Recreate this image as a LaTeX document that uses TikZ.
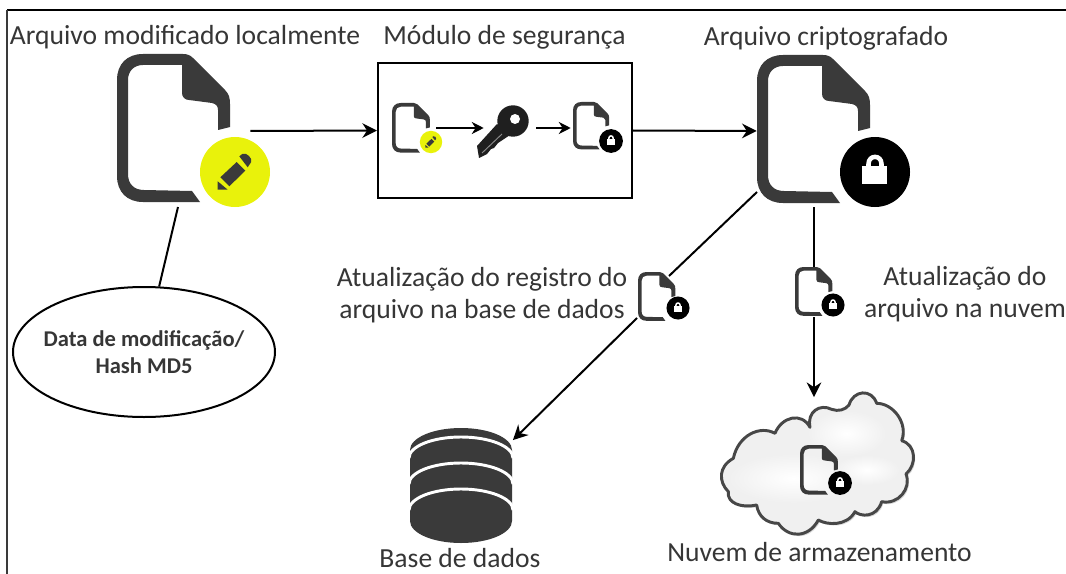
\documentclass[tikz,border=0pt]{standalone}
\usepackage{fontspec}
\setmainfont{Carlito}
\usetikzlibrary{arrows.meta,shapes.geometric,calc}
\definecolor{ink}{HTML}{3A3A3A}
\definecolor{txt}{HTML}{363636}
\definecolor{hl}{HTML}{E9F20B}
\newcommand\lockdraw[1]{%
    \fill[black] (0,0) circle (35);
    \draw[white,line width=#1] (-6.5,-4) -- (-6.5,-8) .. controls (-6.5,-17.5) and (6.5,-17.5) .. (6.5,-8) -- (6.5,-4);
    \fill[white] (-12.7,-6) rectangle (11.7,11.7);
}
\tikzset{
  lab/.style={text=txt,font=\fontsize{20.7}{24}\selectfont,inner sep=0pt,align=center},
  main/.style={line width=1.5pt,-{Stealth[length=11pt,width=11pt]}},
  mini/.style={line width=1.2pt,-{Stealth[length=9pt,width=9pt]}},
  plainline/.style={line width=1.5pt},
  fileicon/.pic={
    \fill[ink] (83,148) -- (26,148) .. controls (10,148) and (0,138) .. (0,122) -- (0,26)
      .. controls (0,10) and (10,0) .. (26,0) -- (66,0) .. controls (70,0) and (73,1) .. (76,4)
      -- (108,36) .. controls (112,40) and (113,44) .. (113,50) -- (113,73) -- (101,76) -- (101,56)
      .. controls (101,52) and (99,50) .. (95,49) -- (72,46) .. controls (68,46) and (65,43) .. (65,39)
      -- (65,11) -- (26,11) .. controls (17,11) and (11,17) .. (11,26) -- (11,120)
      .. controls (11,130) and (17,136) .. (27,136) -- (75,137) -- cycle;
  },
  penbadge/.pic={
    \fill[hl] (0,0) circle (35);
    \fill[ink] (-14.7,5.3) -- (1.7,-10) -- (10.3,-1.3) -- (-5.7,14.3) -- cycle;
    \fill[ink] (-17.3,9.3) -- (-17.3,17.7) -- (-7.3,17.7) -- cycle;
    \fill[ink] (4.3,-15.7) -- (7.3,-18) .. controls (10,-19) and (12,-18) .. (14,-16) .. controls (16,-14) and (17,-12) .. (16,-9.7) -- (12.7,-4.7) -- cycle;
  },
  lockbig/.pic={\lockdraw{3.4pt}},
  locksmall/.pic={\lockdraw{1.1pt}},
}
\begin{document}
\begin{tikzpicture}[x=0.75pt,y=-0.75pt]
\useasboundingbox (0,0) rectangle (1066,574);
% frame
\draw[line width=1.2pt] (7,10) -- (1066,10);
\draw[line width=1.1pt,color=ink] (7,10) -- (7,574);

% titles
\node[lab,anchor=base] (t1) at (185,45) {Arquivo modificado localmente};
\node[lab,anchor=base] (t2) at (504.5,45) {Módulo de segurança};
\node[lab,anchor=base] (t3) at (826,46) {Arquivo criptografado};

% big modified file
\node[inner sep=0pt,minimum width=133*0.75pt,minimum height=154*0.75pt] (file1) at (183.5,131) {};
\pic at (117,54) {fileicon};
\pic at (235,172) {penbadge};

% security module
\node[draw,line width=1.5pt,inner sep=0pt,minimum width=254*0.75pt,minimum height=135*0.75pt] (secbox) at (505,130.5) {};
\node[inner sep=0pt,minimum width=44*0.75pt,minimum height=50*0.75pt] (mfile) at (414,128) {};
\pic[scale=0.335] at (392,103) {fileicon};
\pic[scale=0.32] at (431,142) {penbadge};
% key
\node[inner sep=0pt,minimum width=52*0.75pt,minimum height=52*0.75pt] (keyicon) at (510,128) {};
\fill[black!88] (513,121) circle (15.7);
\fill[black!88] (497,124) -- (477,146) -- (479,158) -- (487,154) -- (491,149) -- (494,148) -- (498,143) -- (510,135) -- cycle;
\fill[white] (515,119) circle (5);
\draw[black!45,line width=0.7pt] (482,153) -- (502,134);
\node[inner sep=0pt,minimum width=2*0.75pt,minimum height=50*0.75pt] (lfile) at (572,128) {};
\pic[scale=0.32] at (573,102) {fileicon};
\pic[scale=0.34] at (611,141) {locksmall};
\draw[mini] (mfile.east) -- (keyicon.west);
\draw[mini] (keyicon.east) -- (lfile.west);

% encrypted file
\node[inner sep=0pt,minimum width=153*0.75pt,minimum height=154*0.75pt] (file2) at (833.5,131) {};
\pic at (757,55) {fileicon};
\pic at (875,172) {lockbig};

\draw[main] (file1.east) -- (secbox.west);
\draw[main] (secbox.east) -- (file2.west);

% note
\node[draw,ellipse,line width=1.5pt,inner sep=0pt,minimum width=262*0.75pt,minimum height=130*0.75pt] (note) at (144,352) {};
\node[text=txt,inner sep=0pt,align=center,font=\fontsize{16.9}{20.2}\selectfont\bfseries] (notetext) at (note.center)
      {Data de modificação/\\Hash MD5};
\coordinate (f1s) at (178,207);
\draw[plainline] (f1s) -- (note.77);

% database branch
\coordinate (f2sw) at (757,192);
\coordinate (dbin) at (669,276);
\coordinate (dbout) at (637,318);
\node[inner sep=0pt,minimum size=1pt] (dbtop) at (512,441) {};
\draw[plainline] (f2sw) -- (dbin);
\draw[main] (dbout) -- (dbtop);
\pic[scale=0.33] at (638,272) {fileicon};
\pic[scale=0.33] at (678,308) {locksmall};
\node[lab,anchor=center] (l1) at (482,295) {Atualização do registro do\\arquivo na base de dados};

% cloud branch
\coordinate (f2s) at (814,207);
\coordinate (cfin) at (814,267);
\coordinate (cfout) at (814,317);
\node[inner sep=0pt,minimum size=1pt] (cltop) at (814,398) {};
\draw[plainline] (f2s) -- (cfin);
\draw[main] (cfout) -- (cltop);
\pic[scale=0.33] at (795,267) {fileicon};
\pic[scale=0.33] at (833,305) {locksmall};
\node[lab,anchor=center] (l2) at (965,294) {Atualização do\\arquivo na nuvem};

% database
\fill[ink] (410,450) -- (512,450) -- (512,521) arc[x radius=51,y radius=22,start angle=0,end angle=180] -- cycle;
\fill[ink] (461,450) ellipse[x radius=51,y radius=22];
\foreach \yy in {458,484,510}{
  \draw[white,line width=2.2pt] (409,\yy) arc[x radius=52,y radius=21,start angle=180,end angle=360];
}
\node[lab,anchor=base] (l3) at (460,567) {Base de dados};

% cloud
\begin{scope}[shift={(660,370)},scale=1/3]
  \def\cloudpath{(450,172) .. controls (440,125) and (480,100) .. (515,118) .. controls (535,125) and (555,120) .. (567,105)
    .. controls (580,60) and (635,55) .. (650,100) .. controls (700,100) and (745,160) .. (725,212)
    .. controls (770,225) and (770,285) .. (738,312) .. controls (755,355) and (715,405) .. (665,395)
    .. controls (650,445) and (600,440) .. (585,425) .. controls (560,470) and (500,465) .. (475,450)
    .. controls (445,505) and (385,505) .. (355,460) .. controls (320,460) and (295,440) .. (290,405)
    .. controls (245,415) and (200,400) .. (205,365) .. controls (175,335) and (175,290) .. (220,265)
    .. controls (235,195) and (300,165) .. (345,190) .. controls (365,140) and (425,125) .. (450,172) -- cycle}
  \fill[black!15,shift={(5,6)}] \cloudpath;
  \fill[black!6] \cloudpath;
  \shade[inner color=white,outer color=black!6] (560,190) ellipse[x radius=120,y radius=70];
  \shade[inner color=white,outer color=black!6] (400,325) ellipse[x radius=200,y radius=75];
  \shade[inner color=white,outer color=black!6] (620,300) ellipse[x radius=100,y radius=45];
  \draw[color=black!72,line width=2.2pt,line join=round] \cloudpath;
\end{scope}
\pic[scale=0.335] at (800,445) {fileicon};
\pic[scale=0.34] at (840,483) {locksmall};
\node[lab,anchor=base] (l4) at (819.5,561) {Nuvem de armazenamento};
\end{tikzpicture}
\end{document}
